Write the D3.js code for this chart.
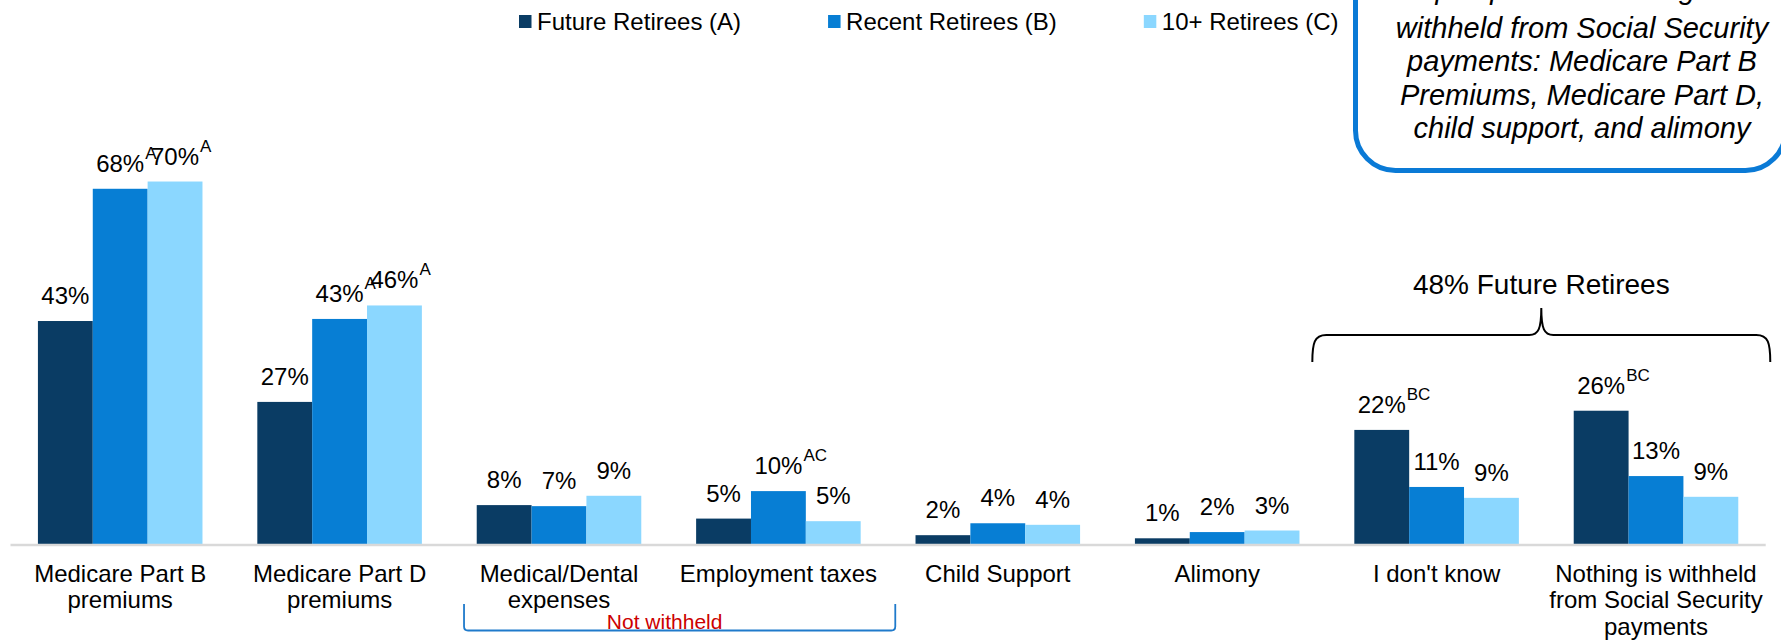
<!DOCTYPE html>
<html>
<head>
<meta charset="utf-8">
<script src="https://cdn.jsdelivr.net/npm/d3@7/dist/d3.min.js"></script>
<style>
  body { margin: 0; background: #fff; }
  svg { display: block; font-family: "Liberation Sans", Arial, sans-serif; }
</style>
</head>
<body>
<div class="chart"></div>
<script>
// data
const categories = ['Medicare Part B premiums', 'Medicare Part D premiums', 'Medical/Dental expenses', 'Employment taxes',
  'Child Support', 'Alimony', "I don't know", 'Nothing is withheld from Social Security payments']
const categoryLines = [['Medicare Part B', 'premiums'], ['Medicare Part D', 'premiums'], ['Medical/Dental', 'expenses'],
  ['Employment taxes'], ['Child Support'], ['Alimony'], ["I don't know"],
  ['Nothing is withheld', 'from Social Security', 'payments']]
const series = ['Future Retirees (A)', 'Recent Retirees (B)', '10+ Retirees (C)']
const colors = ['#0a3c64', '#077ed4', '#8bd7ff']

const futureRetirees = [43, 27.4, 7.5, 4.9, 1.7, 1.1, 22, 25.7]
const recentRetirees = [68.5, 43.4, 7.3, 10.2, 4.0, 2.3, 11.0, 13.1]
const tenPlusRetirees = [69.9, 46, 9.3, 4.4, 3.7, 2.6, 8.9, 9.1]

const futureLabels = ['43%', '27%', '8%', '5%', '2%', '1%', '22%', '26%']
const recentLabels = ['68%', '43%', '7%', '10%', '4%', '2%', '11%', '13%']
const tenPlusLabels = ['70%', '46%', '9%', '5%', '4%', '3%', '9%', '9%']

const futureSig = ['', '', '', '', '', '', 'BC', 'BC']
const recentSig = ['A', 'A', '', 'AC', '', '', '', '']
const tenPlusSig = ['A', 'A', '', '', '', '', '', '']

const calloutLines = ['Top expenses that might be', 'withheld from Social Security', 'payments: Medicare Part B',
  'Premiums, Medicare Part D,', 'child support, and alimony']

const width = 1781
const height = 640
const baseline = 544

const svg = d3.select('.chart')
  .append('svg')
  .attr('width', width)
  .attr('height', height)

const values = [futureRetirees, recentRetirees, tenPlusRetirees]
const labels = [futureLabels, recentLabels, tenPlusLabels]
const sigs = [futureSig, recentSig, tenPlusSig]

let rows = []
categories.forEach((c, i) => {
  series.forEach((s, j) => {
    rows.push({cat: c, series: s, idx: j, value: values[j][i], label: labels[j][i], sig: sigs[j][i]})
  })
})

const x = d3.scaleBand()
  .domain(categories)
  .range([10.5, 1765.7])
  .paddingInner(0.25)
  .paddingOuter(0.125)

const xs = d3.scaleBand()
  .domain(series)
  .range([0, x.bandwidth()])

const y = d3.scaleLinear()
  .domain([0, 70])
  .range([baseline, 181])

function drawBars() {

  const bars = svg.append('g').attr('class', 'bars')

  bars.selectAll('rect')
    .data(rows)
    .enter().append('rect')
      .attr('x', d => x(d.cat) + xs(d.series))
      .attr('y', d => y(d.value))
      .attr('width', xs.bandwidth())
      .attr('height', d => y(0) - y(d.value))
      .attr('fill', d => colors[d.idx])

  // axis line
  svg.append('line')
    .attr('x1', x.range()[0])
    .attr('x2', x.range()[1])
    .attr('y1', baseline + 1)
    .attr('y2', baseline + 1)
    .attr('stroke', '#d9d9d9')
    .attr('stroke-width', 2.5)

  const lab = svg.append('g').attr('class', 'value-labels')

  rows.forEach(d => {
    let cx = x(d.cat) + xs(d.series) + xs.bandwidth() / 2
    let t = lab.append('text')
      .attr('x', cx)
      .attr('y', y(d.value) - 17)
      .attr('text-anchor', 'middle')
      .style('font-size', '24px')
      .attr('fill', '#000')
      .text(d.label)
    if (d.sig) {
      let w = t.node().getComputedTextLength()
      lab.append('text')
        .attr('x', cx + w / 2 + 1)
        .attr('y', y(d.value) - 30)
        .style('font-size', '17px')
        .attr('fill', '#000')
        .text(d.sig)
    }
  })

  // category labels
  const cats = svg.append('g').attr('class', 'cat-labels')
  categories.forEach((c, i) => {
    let t = cats.append('text')
      .attr('text-anchor', 'middle')
      .style('font-size', '24px')
      .attr('fill', '#000')
    categoryLines[i].forEach((line, k) => {
      t.append('tspan')
        .attr('x', x(c) + x.bandwidth() / 2)
        .attr('y', 581.5 + k * 26.5)
        .text(line)
    })
  })
}

function drawLegend() {
  const legend = svg.append('g').attr('class', 'legend')
  let pos = 519
  series.forEach((s, i) => {
    legend.append('rect')
      .attr('x', pos)
      .attr('y', 15)
      .attr('width', 12.5)
      .attr('height', 13)
      .attr('fill', colors[i])
    let t = legend.append('text')
      .attr('x', pos + 18)
      .attr('y', 29.5)
      .style('font-size', '24px')
      .attr('fill', '#000')
      .text(s)
    pos = pos + 18 + t.node().getComputedTextLength() + 87
  })
}

function drawAnnotations() {

  // "Not withheld" bracket under Medical/Dental and Employment taxes
  let bx0 = x(categories[2]) - 12.7
  let bx1 = x(categories[3]) + x.bandwidth() + 34.6
  let by0 = 604, by1 = 630.5, r = 4
  svg.append('path')
    .attr('d', `M${bx0},${by0} L${bx0},${by1 - r} Q${bx0},${by1} ${bx0 + r},${by1} L${bx1 - r},${by1} Q${bx1},${by1} ${bx1},${by1 - r} L${bx1},${by0}`)
    .attr('fill', 'none')
    .attr('stroke', '#1f7acb')
    .attr('stroke-width', 1.8)

  svg.append('text')
    .attr('x', (bx0 + bx1) / 2 - 15)
    .attr('y', 628.5)
    .attr('text-anchor', 'middle')
    .style('font-size', '21px')
    .attr('fill', '#cc0000')
    .text('Not withheld')

  // curly brace over the last two groups
  let l = x(categories[6]) - 42
  let rr = x(categories[7]) + x.bandwidth() + 32
  let m = (l + rr) / 2
  let top = 308, mid = 335, bot = 362
  svg.append('path')
    .attr('d', `M${l},${bot} C${l},${mid + 8} ${l + 2},${mid} ${l + 14},${mid} L${m - 12},${mid} C${m - 3},${mid} ${m},${mid - 6} ${m},${top} ` +
      `C${m},${mid - 6} ${m + 3},${mid} ${m + 12},${mid} L${rr - 14},${mid} C${rr - 2},${mid} ${rr},${mid + 8} ${rr},${bot}`)
    .attr('fill', 'none')
    .attr('stroke', '#000')
    .attr('stroke-width', 2)

  svg.append('text')
    .attr('x', m)
    .attr('y', 293.5)
    .attr('text-anchor', 'middle')
    .style('font-size', '28px')
    .attr('fill', '#000')
    .text('48% Future Retirees')

  // callout box top right (top line runs off the page)
  const callout = svg.append('g').attr('class', 'callout')
  callout.append('rect')
    .attr('x', 1355.5)
    .attr('y', -80)
    .attr('width', 430)
    .attr('height', 250.5)
    .attr('rx', 40)
    .attr('fill', '#fff')
    .attr('stroke', '#0a7ad6')
    .attr('stroke-width', 5)

  callout.selectAll('text')
    .data(calloutLines)
    .enter().append('text')
      .attr('x', 1582)
      .attr('y', (d, i) => i === 0 ? -1 : 4 + i * 33.6)
      .attr('text-anchor', 'middle')
      .style('font-size', '29px')
      .style('font-style', 'italic')
      .attr('fill', '#000')
      .text(d => d)
}

drawBars()
drawLegend()
drawAnnotations()
</script>
</body>
</html>
